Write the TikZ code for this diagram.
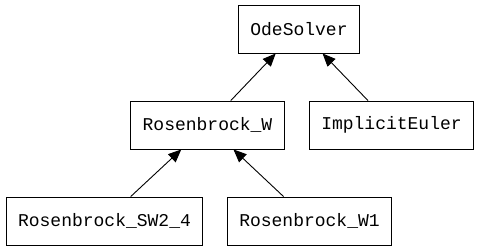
\documentclass[tikz,border=0pt]{standalone}
\usepackage{fontspec}
\setmonofont{Liberation Mono}
\usepackage{tikz}
\usetikzlibrary{arrows.meta}

\begin{document}
\begin{tikzpicture}[x=1pt, y=-1pt,
        cls/.style={draw, line width=0.9pt, inner xsep=12pt, minimum height=48pt,
                    font=\ttfamily\fontsize{18}{20}\selectfont},
        inherit/.style={-{Triangle[length=13pt, width=11pt]}, line width=0.9pt}]
                \useasboundingbox (0, 0) rectangle (479, 251);

                \node[cls] (ode) at (299, 29) {OdeSolver};
                \node[cls] (rw) at (207.5, 125) {Rosenbrock\_W};
                \node[cls] (euler) at (391.5, 125) {ImplicitEuler};
                \node[cls] (sw24) at (104.5, 221) {Rosenbrock\_SW2\_4};
                \node[cls] (w1) at (309.5, 221) {Rosenbrock\_W1};

                \draw[inherit] (rw) -- (ode);
                \draw[inherit] (euler) -- (ode);
                \draw[inherit] (sw24) -- (rw);
                \draw[inherit] (w1) -- (rw);
            \end{tikzpicture}
\end{document}
